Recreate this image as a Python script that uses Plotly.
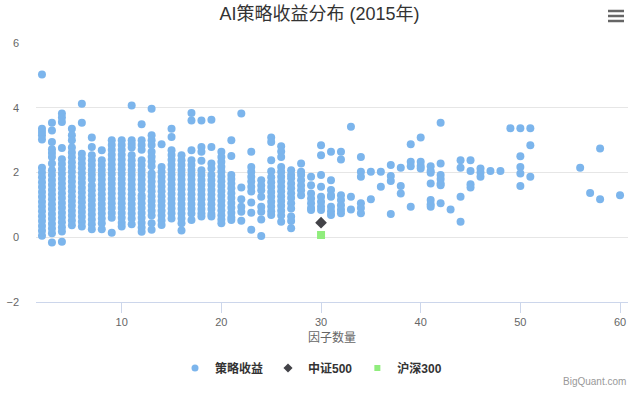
import plotly.graph_objects as go

# 策略收益: factor count -> list of annual returns
strategy = {
    2: [5.03, 3.35, 3.25, 3.15, 3.02, 2.15, 2.0, 1.85, 1.7, 1.55, 1.4, 1.25, 1.1, 0.95, 0.8, 0.65, 0.5, 0.35, 0.2, 0.05],
    3: [3.54, 3.30, 2.94, 2.72, 2.6, 2.48, 2.28, 2.07, 1.92, 1.77, 1.62, 1.47, 1.32, 1.17, 1.02, 0.87, 0.72, 0.57, 0.42, 0.27, 0.12, -0.16],
    4: [3.82, 3.7, 3.56, 2.76, 2.41, 2.26, 2.11, 1.96, 1.81, 1.66, 1.51, 1.36, 1.21, 1.06, 0.91, 0.76, 0.61, 0.46, 0.31, 0.18, -0.14],
    5: [3.35, 3.15, 3.0, 2.77, 2.62, 2.47, 2.32, 2.17, 2.02, 1.87, 1.72, 1.57, 1.42, 1.27, 1.12, 0.97, 0.82, 0.67, 0.52, 0.37],
    6: [4.12, 3.54, 2.58, 2.43, 2.28, 2.13, 1.98, 1.83, 1.68, 1.53, 1.38, 1.23, 1.08, 0.93, 0.78, 0.63, 0.48, 0.33],
    7: [3.08, 2.79, 2.53, 2.38, 2.23, 2.08, 1.93, 1.78, 1.6, 1.45, 1.3, 1.15, 1.0, 0.85, 0.7, 0.55, 0.4, 0.25],
    8: [2.69, 2.38, 2.23, 2.08, 1.93, 1.78, 1.63, 1.48, 1.33, 1.18, 1.03, 0.88, 0.73, 0.58, 0.43, 0.25],
    9: [3.0, 2.85, 2.7, 2.55, 2.4, 2.25, 2.1, 1.95, 1.8, 1.65, 1.5, 1.35, 1.2, 1.05, 0.9, 0.75, 0.6, 0.14],
    10: [3.0, 2.85, 2.7, 2.55, 2.4, 2.25, 2.1, 1.95, 1.8, 1.65, 1.5, 1.35, 1.2, 1.05, 0.9, 0.75, 0.6, 0.45, 0.33],
    11: [4.07, 3.0, 2.88, 2.77, 2.53, 2.38, 2.23, 2.08, 1.93, 1.78, 1.63, 1.48, 1.33, 1.18, 1.03, 0.88, 0.73, 0.58, 0.4],
    12: [3.49, 3.0, 2.85, 2.7, 2.38, 2.23, 2.08, 1.93, 1.78, 1.63, 1.48, 1.3, 1.2, 1.05, 0.9, 0.75, 0.6, 0.45, 0.3, 0.17],
    13: [3.97, 3.15, 3.0, 2.85, 2.64, 2.49, 2.34, 2.19, 1.97, 1.87, 1.72, 1.57, 1.42, 1.27, 1.12, 0.97, 0.82, 0.67, 0.43, 0.23],
    14: [2.87, 2.17, 2.02, 1.87, 1.72, 1.57, 1.42, 1.27, 1.12, 0.97, 0.82, 0.67, 0.52, 0.38],
    15: [3.35, 3.1, 2.69, 2.54, 2.39, 2.24, 2.09, 1.94, 1.79, 1.64, 1.49, 1.34, 1.19, 1.04, 0.89, 0.74, 0.58],
    16: [2.53, 2.38, 2.23, 2.08, 1.93, 1.78, 1.63, 1.48, 1.33, 1.18, 1.03, 0.88, 0.73, 0.58, 0.43, 0.21],
    17: [3.84, 3.61, 2.69, 2.38, 2.23, 2.08, 1.93, 1.78, 1.63, 1.48, 1.33, 1.18, 1.03, 0.88, 0.73, 0.53],
    18: [3.61, 2.79, 2.64, 2.36, 2.07, 1.92, 1.77, 1.62, 1.47, 1.32, 1.17, 1.02, 0.87, 0.74, 0.64],
    19: [3.63, 2.79, 2.28, 2.12, 1.92, 1.77, 1.62, 1.47, 1.32, 1.17, 1.02, 0.87, 0.72, 0.64],
    20: [2.64, 2.48, 2.33, 2.18, 2.03, 1.88, 1.73, 1.58, 1.43, 1.28, 1.13, 0.98, 0.83, 0.68, 0.55, 0.43],
    21: [3.0, 2.51, 1.92, 1.8, 1.66, 1.51, 1.36, 1.21, 1.06, 0.91, 0.76, 0.61, 0.53],
    22: [3.82, 1.54, 1.17, 0.94, 0.79, 0.51],
    23: [2.64, 2.17, 2.02, 1.87, 1.72, 1.56, 1.41, 1.07, 0.76, 0.23],
    24: [1.76, 1.6, 1.45, 1.25, 0.94, 0.79, 0.55, 0.04],
    25: [3.08, 2.94, 2.38, 2.04, 1.85, 1.7, 1.55, 1.4, 1.25, 1.1, 0.95, 0.8, 0.69],
    26: [2.81, 2.65, 2.48, 2.17, 2.02, 1.87, 1.72, 1.57, 1.42, 1.27, 1.12, 0.97, 0.82, 0.67, 0.48],
    27: [2.07, 1.92, 1.82, 1.66, 1.51, 1.36, 1.21, 1.05, 0.89, 0.64, 0.5, 0.28],
    28: [2.28, 2.02, 1.92, 1.76, 1.6, 1.45, 1.3],
    29: [1.87, 1.61, 1.35, 1.2, 1.05, 0.9, 0.84],
    30: [2.84, 2.53, 1.92, 1.56, 1.25, 1.1, 0.95, 0.84],
    31: [2.64, 1.76, 1.46, 1.3, 1.25, 0.94, 0.8, 0.69],
    32: [2.64, 2.4, 1.3, 1.15, 0.99, 0.85, 0.74],
    33: [3.41, 1.25, 0.86],
    34: [2.48, 2.02, 1.87, 1.05, 0.9, 0.74],
    35: [2.02, 1.17],
    36: [2.02, 1.56],
    37: [2.23, 1.89, 1.74, 0.72],
    38: [2.15, 1.58, 1.35],
    39: [2.87, 2.33, 2.19, 0.94],
    40: [3.08, 2.33, 2.2, 2.12],
    41: [2.19, 2.05, 1.99, 1.66, 1.15, 1.02, 0.94],
    42: [3.54, 2.28, 1.92, 1.8, 1.66, 1.61, 1.05],
    43: [0.86],
    44: [2.38, 2.15, 1.25, 0.48],
    45: [2.38, 2.05, 1.64, 1.54],
    46: [2.12, 2.0, 1.87],
    47: [2.05],
    48: [2.05],
    49: [3.37],
    50: [3.37, 2.5, 2.17, 1.97, 1.58],
    51: [3.37, 2.84, 1.87],
    56: [2.15],
    57: [1.37],
    58: [2.74, 1.17],
    60: [1.3],
}

zz500_x = [30]
zz500_y = [0.45]
hs300_x = [30]
hs300_y = [0.07]

y_ticks = [-2, 0, 2, 4, 6]
x_ticks = [10, 20, 30, 40, 50, 60]

sx, sy = [], []
for k, vals in strategy.items():
    for v in vals:
        sx.append(k)
        sy.append(v)

FONT = "Liberation Sans, Noto Sans CJK SC, sans-serif"
C0, C1, C2 = "#7cb5ec", "#434348", "#90ed7d"

fig = go.Figure()
fig.add_trace(go.Scatter(x=sx, y=sy, mode="markers", name="策略收益", showlegend=False,
                         marker=dict(color=C0, size=8, symbol="circle", line=dict(width=0))))
fig.add_trace(go.Scatter(x=zz500_x, y=zz500_y, mode="markers", name="中证500", showlegend=False,
                         marker=dict(color=C1, size=9, symbol="diamond", line=dict(width=0))))
fig.add_trace(go.Scatter(x=hs300_x, y=hs300_y, mode="markers", name="沪深300", showlegend=False,
                         marker=dict(color=C2, size=8, symbol="square", line=dict(width=0))))
# legend entries with small Highcharts-like symbols
for nm, col, sym, sz in [("策略收益", C0, "circle", 7), ("中证500", C1, "diamond", 7), ("沪深300", C2, "square", 6)]:
    fig.add_trace(go.Scatter(x=[None], y=[None], mode="markers", name=nm,
                             marker=dict(color=col, size=sz, symbol=sym, line=dict(width=0))))

W, H = 639, 394
L, R, T, B = 36, 11, 43, 92
pw, ph = W - L - R, H - T - B

def px(x):
    return (x - L) / pw

def py(y):
    return (H - B - y) / ph

shapes = []
for yy in [11, 16, 21]:
    shapes.append(dict(type="line", xref="paper", yref="paper",
                       x0=px(608), x1=px(624), y0=py(yy), y1=py(yy),
                       line=dict(color="#666666", width=2.5)))

fig.update_layout(
    width=W, height=H,
    margin=dict(l=L, r=R, t=T, b=B),
    paper_bgcolor="white", plot_bgcolor="white",
    font=dict(family=FONT, color="#666666", size=11),
    title=dict(text="AI策略收益分布 (2015年)", x=0.5, xanchor="center",
               y=1 - 14 / H, yanchor="middle",
               font=dict(size=18, color="#333333", family=FONT)),
    xaxis=dict(range=[1.4, 60.8], tickvals=x_ticks, showgrid=False, zeroline=False,
               showline=True, linecolor="#ccd6eb", linewidth=1, automargin=False,
               ticks="outside", ticklen=10, tickcolor="#ccd6eb",
               tickfont=dict(size=11, color="#666666"),
               title=dict(text="因子数量", font=dict(size=12, color="#666666"), standoff=6)),
    yaxis=dict(range=[-2, 6], tickvals=y_ticks, showgrid=True, gridcolor="#e6e6e6",
               zeroline=False, showline=False, ticks="", automargin=False,
               tickfont=dict(size=11, color="#666666"), ticklabelstandoff=16),
    legend=dict(orientation="h", x=px(311), xanchor="center", y=py(368), yanchor="middle",
                font=dict(size=12, color="#333333", family=FONT, weight="bold"),
                itemwidth=30, tracegroupgap=0),
    shapes=shapes,
    annotations=[dict(text="BigQuant.com", xref="paper", yref="paper",
                      x=px(628), y=py(381), xanchor="right", yanchor="middle",
                      showarrow=False, font=dict(size=10, color="#999999"))],
    showlegend=True,
)

fig.write_html("out.html", config={"displayModeBar": False})

with open("out.html", "r", encoding="utf-8") as f:
    html = f.read()
html = html.replace("<head>", "<head><style>html,body{margin:0;padding:0;overflow:hidden;}</style>", 1)
with open("out.html", "w", encoding="utf-8") as f:
    f.write(html)
